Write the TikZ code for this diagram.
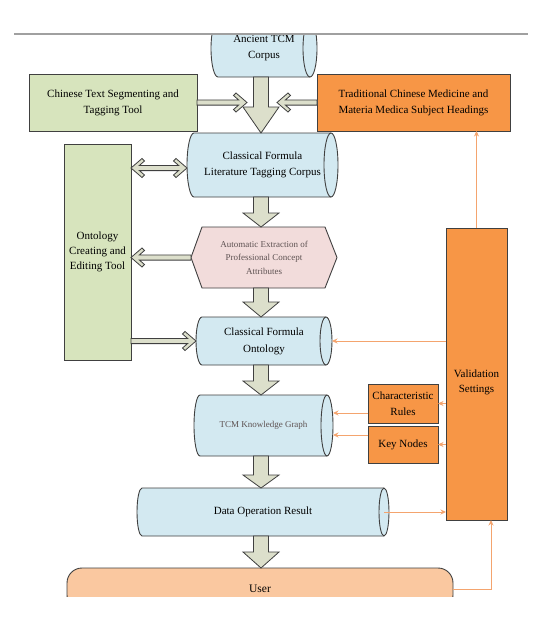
\documentclass[tikz,border=0pt]{standalone}
\usepackage{fontspec}
\setmainfont{Liberation Serif}
\usetikzlibrary{arrows.meta,calc}
\definecolor{cylblue}{HTML}{D3E9F1}
\definecolor{boxgreen}{HTML}{D7E4BD}
\definecolor{boxorange}{HTML}{F79646}
\definecolor{hexpink}{HTML}{F2DCDB}
\definecolor{userpeach}{HTML}{FAC8A0}
\definecolor{edge}{HTML}{404040}
\definecolor{arrfill}{HTML}{DCDFCB}
\definecolor{thinorange}{HTML}{F4A46E}
\definecolor{greytext}{HTML}{5E5252}
\definecolor{topline}{HTML}{A0A0A0}
\tikzset{
  outline/.style={draw=edge, line width=0.9pt},
  cylbody/.style={outline, fill=cylblue},
  txt/.style={inner sep=0pt, outer sep=0pt, align=center, font=\fontsize{11}{16}\selectfont, text=black},
  smalltxt/.style={inner sep=0pt, outer sep=0pt, align=center, font=\fontsize{9}{13.5}\selectfont, text=greytext},
  greenbox/.style={outline, fill=boxgreen, txt},
  orangebox/.style={outline, fill=boxorange, txt},
  bigarr/.style={draw=edge, line width=0.8pt, fill=arrfill},
  hollow/.style={draw=edge, line width=0.8pt, fill=arrfill},
  oarrow/.style={draw=thinorange, line width=0.9pt, -{Stealth[length=5.5pt,width=5pt]}},
}
% cylinder: name L R T B rx style text
\newcommand\mkcyl[8]{%
  \filldraw[cylbody] ({#2+#6},-#4) -- ({#3-#6},-#4)
    arc[start angle=90,end angle=-90,x radius=#6,y radius={(#5-#4)/2}]
    -- ({#2+#6},-#5)
    arc[start angle=270,end angle=90,x radius=#6,y radius={(#5-#4)/2}] -- cycle;
  \draw[outline] ({#3-#6},-#4) arc[start angle=90,end angle=270,x radius=#6,y radius={(#5-#4)/2}];
  \node[#7, minimum width={#3-#2}, minimum height={#5-#4}] (#1) at ({(#2+#3)/2},{-(#4+#5)/2}) {#8};
}
% box: name L T R B style text
\newcommand\mkbox[7]{%
  \node[#6, minimum width={#4-#2}, minimum height={#5-#3}, outer sep=0pt] (#1) at ({(#2+#4)/2},{-(#3+#5)/2}) {#7};
}
% big downward block arrow: from, to, head length
\newcommand\bigdown[3]{%
  \path[bigarr] let \p1=(#1), \p2=(#2) in
    (\x1-7.5pt,\y1) -- (\x1-7.5pt,\y2+#3pt) -- (\x1-18pt,\y2+#3pt) -- (\x1,\y2)
    -- (\x1+18pt,\y2+#3pt) -- (\x1+7.5pt,\y2+#3pt) -- (\x1+7.5pt,\y1) -- cycle;
}
% hollow arrow pointing right: start (left), tip (right)
\newcommand\harrowR[2]{%
  \path[hollow] let \p1=(#1), \p2=(#2) in
    (\x1,\y2+2.6pt) -- (\x2-8.41pt,\y2+2.6pt) -- (\x2-13.5pt,\y2+7pt) -- (\x2-11pt,\y2+9.5pt)
    -- (\x2,\y2) -- (\x2-11pt,\y2-9.5pt) -- (\x2-13.5pt,\y2-7pt) -- (\x2-8.41pt,\y2-2.6pt)
    -- (\x1,\y2-2.6pt) -- cycle;
}
% hollow arrow pointing left: start (right), tip (left)
\newcommand\harrowL[2]{%
  \path[hollow] let \p1=(#1), \p2=(#2) in
    (\x1,\y2+2.6pt) -- (\x2+8.41pt,\y2+2.6pt) -- (\x2+13.5pt,\y2+7pt) -- (\x2+11pt,\y2+9.5pt)
    -- (\x2,\y2) -- (\x2+11pt,\y2-9.5pt) -- (\x2+13.5pt,\y2-7pt) -- (\x2+8.41pt,\y2-2.6pt)
    -- (\x1,\y2-2.6pt) -- cycle;
}
% hollow double arrow: left tip, right tip
\newcommand\harrowLR[2]{%
  \path[hollow] let \p1=(#1), \p2=(#2) in
    (\x1,\y1) -- (\x1+11pt,\y1+9.5pt) -- (\x1+13.5pt,\y1+7pt) -- (\x1+8.41pt,\y1+2.6pt)
    -- (\x2-8.41pt,\y1+2.6pt) -- (\x2-13.5pt,\y1+7pt) -- (\x2-11pt,\y1+9.5pt) -- (\x2,\y1)
    -- (\x2-11pt,\y1-9.5pt) -- (\x2-13.5pt,\y1-7pt) -- (\x2-8.41pt,\y1-2.6pt)
    -- (\x1+8.41pt,\y1-2.6pt) -- (\x1+13.5pt,\y1-7pt) -- (\x1+11pt,\y1-9.5pt) -- cycle;
}
\begin{document}
\begin{tikzpicture}[x=1pt,y=1pt]
\useasboundingbox (0,0) rectangle (543,-627);
\fill[white] (0,0) rectangle (543,-627);
\draw[topline, line width=1.5pt] (14,-34) -- (528,-34);

% nodes
\begin{scope}
  \clip (0,-35.2) rectangle (543,-100);
  \mkcyl{anc}{211}{317}{20}{77}{7}{txt}{Ancient TCM\\Corpus}
\end{scope}
\mkbox{cts}{29}{74}{197}{131}{greenbox}{Chinese Text Segmenting and\\Tagging Tool}
\mkbox{trad}{317}{74}{510}{131}{orangebox}{Traditional Chinese Medicine and\\Materia Medica Subject Headings}
\mkcyl{corpus}{187}{338}{133}{197}{7}{txt}{Classical Formula\\Literature Tagging Corpus}
\mkbox{ont}{64}{144}{131}{360}{greenbox, font=\fontsize{11}{15}\selectfont}{Ontology\\Creating and\\Editing Tool}
\filldraw[outline, fill=hexpink] (191,-257.5) -- (202,-227) -- (325,-227) -- (337,-257.5) -- (325,-288) -- (202,-288) -- cycle;
\node[smalltxt, minimum width=146, minimum height=61] (hex) at (264,-257.5) {Automatic Extraction of\\Professional Concept\\Attributes};
\mkcyl{cfo}{196}{332}{317}{365}{6}{txt, font=\fontsize{11}{17}\selectfont}{Classical Formula\\Ontology}
\mkbox{val}{446}{228}{507}{520}{orangebox}{}
\node[txt, font=\fontsize{11}{15}\selectfont] (valtxt) at (476.5,-382.5) {Validation\\Settings};
\mkbox{cr}{368}{384}{438}{423}{orangebox}{Characteristic\\Rules}
\mkbox{kn}{368}{426}{438}{463}{orangebox}{Key Nodes}
\mkcyl{kg}{194}{333}{395}{456}{6}{smalltxt}{TCM Knowledge Graph}
\mkcyl{dor}{137}{389}{488}{536}{5}{txt}{Data Operation Result}
\begin{scope}
  \clip (0,-560) rectangle (543,-596);
  \node[outline, fill=userpeach, rounded corners=15pt, minimum width=386, minimum height=42, txt, font=\fontsize{11.5}{14}\selectfont] (user) at (260,-589) {User};
\end{scope}

% helper coordinates
\coordinate (axis) at (261,0);
\coordinate (m1) at (247,-102.5);
\coordinate (m2) at (277,-102.5);
\coordinate (cw) at ([yshift=-3pt]corpus.west);
\coordinate (crl) at ([yshift=-9.5pt]cr.west);
\coordinate (knl) at ([yshift=9.5pt]kn.west);
\coordinate (dore) at ([xshift=-5pt]dor.east);
\coordinate (vals) at ([xshift=14.5pt]val.south);

% big arrows
\bigdown{anc.south -| axis}{corpus.north -| axis}{26}
\bigdown{corpus.south -| axis}{hex.north -| axis}{14}
\bigdown{hex.south -| axis}{cfo.north -| axis}{15}
\bigdown{cfo.south -| axis}{kg.north -| axis}{14}
\bigdown{kg.south -| axis}{dor.north -| axis}{13}
\bigdown{dor.south -| axis}{user.north -| axis}{16}

% hollow arrows
\harrowR{cts.east}{m1}
\harrowL{trad.west}{m2}
\harrowLR{ont.east |- cw}{cw}
\harrowL{hex.west}{hex.west -| ont.east}
\harrowR{ont.east |- cfo.west}{cfo.west}

% orange arrows
\draw[oarrow] (val.north) -- (val.north |- trad.south);
\draw[oarrow] (val.west |- cfo.east) -- (cfo.east);
\draw[oarrow] (val.west |- cr.east) -- (cr.east);
\draw[oarrow] (val.west |- kn.east) -- (kn.east);
\draw[oarrow] (crl) -- (crl -| kg.east);
\draw[oarrow] (knl) -- (knl -| kg.east);
\draw[oarrow] (dore) -- (dore -| val.west);
\draw[oarrow] (user.east) -| (vals);
\end{tikzpicture}
\end{document}
